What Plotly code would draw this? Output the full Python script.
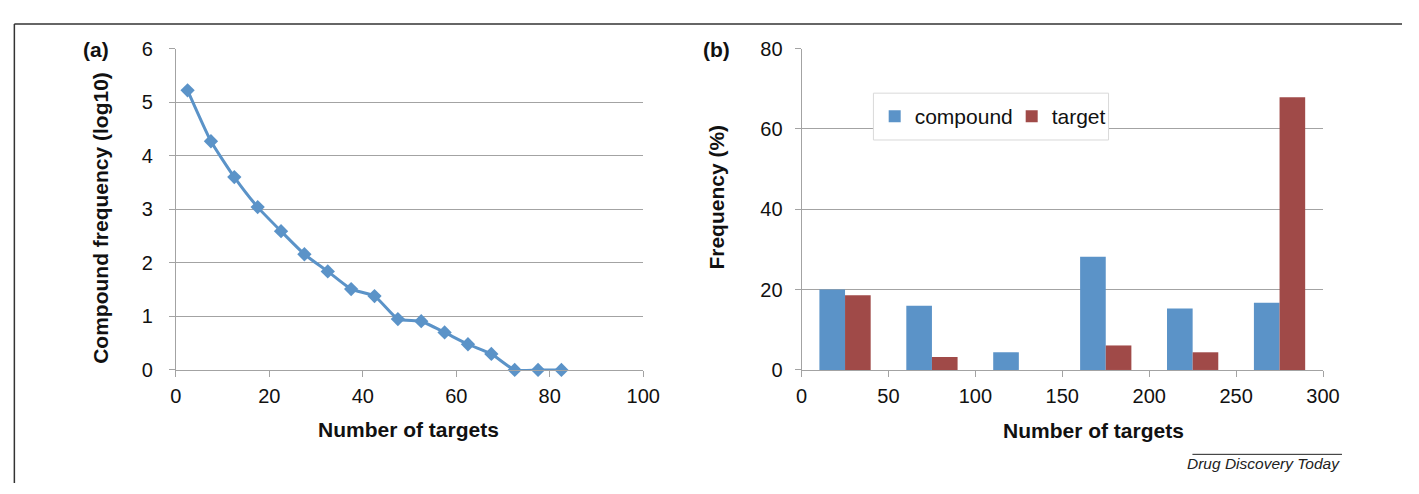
import plotly.graph_objects as go

# ---- data ----
targets_a = [2.5, 7.5, 12.5, 17.5, 22.5, 27.5, 32.5, 37.5, 42.5, 47.5, 52.5, 57.5, 62.5, 67.5, 72.5, 77.5, 82.5]
log_freq = [5.22, 4.27, 3.60, 3.04, 2.59, 2.16, 1.84, 1.51, 1.38, 0.95, 0.91, 0.70, 0.48, 0.30, 0.0, 0.0, 0.0]

bins_b = [25, 75, 125, 175, 225, 275]
compound_pct = [20.0, 16.0, 4.4, 28.2, 15.3, 16.7]
target_pct = [18.6, 3.2, 0.0, 6.1, 4.4, 67.9]

x_ticks_a = [0, 20, 40, 60, 80, 100]
y_ticks_a = [0, 1, 2, 3, 4, 5, 6]
x_ticks_b = [0, 50, 100, 150, 200, 250, 300]
y_ticks_b = [0, 20, 40, 60, 80]

W, H = 1419, 494
BLUE = "#5B93C8"
RED = "#A04A48"
GRID = "#A3A3A3"
FONT = "Liberation Sans"


def px(x):
    return x / W


def py(y):
    return 1 - y / H


fig = go.Figure()

fig.add_trace(go.Scatter(
    x=targets_a, y=log_freq, mode="lines+markers",
    line=dict(color=BLUE, width=3, shape="spline", smoothing=0.5),
    marker=dict(symbol="diamond", size=11, color=BLUE),
    xaxis="x", yaxis="y", showlegend=False, cliponaxis=False,
))

fig.add_trace(go.Bar(
    x=bins_b, y=compound_pct, name="compound", marker=dict(color=BLUE, line=dict(width=0)),
    xaxis="x2", yaxis="y2",
))
fig.add_trace(go.Bar(
    x=bins_b, y=target_pct, name="target", marker=dict(color=RED, line=dict(width=0)),
    xaxis="x2", yaxis="y2",
))

ydom = [py(375.7), py(39.3)]
axis_common = dict(
    showline=True, linecolor=GRID, linewidth=1,
    ticks="outside", ticklen=6, tickcolor=GRID, tickwidth=1,
    tickfont=dict(family=FONT, size=20, color="#111111"),
    zeroline=False, fixedrange=True,
)

fig.update_layout(
    width=W, height=H,
    margin=dict(l=0, r=0, t=0, b=0),
    paper_bgcolor="white", plot_bgcolor="white",
    barmode="group", bargap=0.41, bargroupgap=0,
    font=dict(family=FONT, color="#111111"),
    xaxis=dict(domain=[px(172.7), px(647.7)], range=[0, 100], tickvals=x_ticks_a,
               showgrid=False, anchor="y", ticklabelstandoff=2, **axis_common),
    yaxis=dict(domain=ydom, range=[0, 6], tickvals=y_ticks_a,
               showgrid=True, gridcolor=GRID, gridwidth=1, anchor="x",
               ticklabelstandoff=12, **axis_common),
    xaxis2=dict(domain=[px(808.7), px(1338.7)], range=[0, 300], tickvals=x_ticks_b,
                showgrid=False, anchor="y2", ticklabelstandoff=2, **axis_common),
    yaxis2=dict(domain=ydom, range=[0, 80], tickvals=y_ticks_b,
                showgrid=True, gridcolor=GRID, gridwidth=1, anchor="x2",
                ticklabelstandoff=8, **axis_common),
    legend=dict(
        x=px(883), y=py(110.5), xanchor="left", yanchor="middle",
        orientation="h", bgcolor="rgba(0,0,0,0)", borderwidth=0,
        font=dict(family=FONT, size=21, color="#111111"),
        itemwidth=30, entrywidth=92,
    ),
)

# legend frame (white box with light border, covering gridline)
fig.add_shape(type="rect", xref="paper", yref="paper", layer="above",
              x0=px(881.7), x1=px(1120.7), y0=py(135), y1=py(86),
              fillcolor="white", line=dict(color="#D9D9D9", width=1))

bold = dict(family=FONT, size=21, color="#111111")
ann = [
    dict(text="<b>(a)</b>", x=px(91.5), y=py(40)),
    dict(text="<b>(b)</b>", x=px(722), y=py(40)),
    dict(text="<b>Compound frequency (log10)</b>", x=px(96), y=py(216), textangle=-90),
    dict(text="<b>Number of targets</b>", x=px(409), y=py(438)),
    dict(text="<b>Frequency (%)</b>", x=px(722), y=py(195), textangle=-90),
    dict(text="<b>Number of targets</b>", x=px(1105.5), y=py(439)),
]
for a in ann:
    fig.add_annotation(xref="paper", yref="paper", showarrow=False,
                       xanchor="center", yanchor="middle", font=bold, **a)

fig.add_annotation(text="<i>Drug Discovery Today</i>", xref="paper", yref="paper",
                   x=px(1358), y=py(474), xanchor="right", yanchor="middle",
                   showarrow=False, font=dict(family=FONT, size=15.5, color="#222222"))

# frame lines and overline
fig.add_shape(type="line", xref="paper", yref="paper", x0=px(8.5), x1=1, y0=py(13.5), y1=py(13.5),
              line=dict(color="#333333", width=1.5))
fig.add_shape(type="line", xref="paper", yref="paper", x0=px(8.5), x1=px(8.5), y0=py(13.5), y1=0,
              line=dict(color="#333333", width=1.5))
fig.add_shape(type="line", xref="paper", yref="paper", x0=px(1206), x1=px(1358), y0=py(464), y1=py(464),
              line=dict(color="#222222", width=1))

fig.write_html("out.html", config=dict(displayModeBar=False),
               post_script="document.body.style.margin='0';document.body.style.overflow='hidden';")
